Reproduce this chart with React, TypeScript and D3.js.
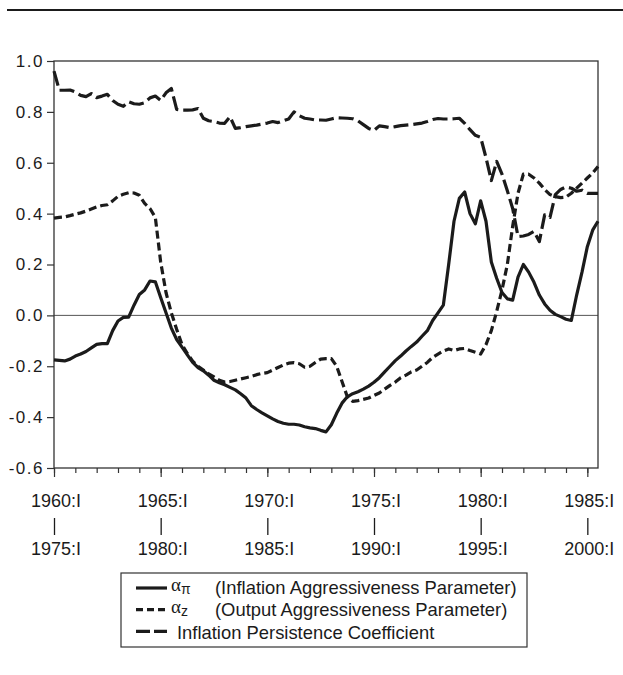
import React, { useEffect, useRef } from 'react'
import * as d3 from 'd3'

// quarterly estimates, 1960:I .. 1985:III
const firstYear = 1960
const lastYear = 1985.5

const alphaPi = [
  -0.175, -0.177, -0.179, -0.172, -0.16, -0.152, -0.142, -0.128, -0.114, -0.111,
  -0.111, -0.06, -0.022, -0.008, -0.007, 0.04, 0.082, 0.1, 0.135, 0.132,
  0.07, 0.01, -0.05, -0.095, -0.125, -0.155, -0.185, -0.205, -0.218, -0.235,
  -0.255, -0.265, -0.273, -0.283, -0.293, -0.308, -0.325, -0.355, -0.37, -0.383,
  -0.395, -0.407, -0.417, -0.424, -0.428, -0.428, -0.431, -0.438, -0.442, -0.445,
  -0.452, -0.458, -0.43, -0.385, -0.345, -0.32, -0.308, -0.3, -0.29, -0.278,
  -0.263, -0.245, -0.222, -0.2, -0.178, -0.16, -0.14, -0.122, -0.105, -0.082,
  -0.06, -0.02, 0.01, 0.04, 0.2, 0.37, 0.46, 0.485, 0.4, 0.36,
  0.45, 0.37, 0.21, 0.146, 0.09, 0.065, 0.06, 0.15, 0.2, 0.17,
  0.13, 0.08, 0.045, 0.02, 0.004, -0.005, -0.015, -0.02, 0.08, 0.17,
  0.27, 0.335, 0.37
]

const alphaZ = [
  0.382, 0.385, 0.387, 0.392, 0.398, 0.403, 0.41, 0.418, 0.426, 0.432,
  0.435, 0.45, 0.468, 0.476, 0.482, 0.481, 0.472, 0.44, 0.42, 0.385,
  0.21, 0.09, 0.01, -0.055, -0.115, -0.15, -0.18, -0.2, -0.215, -0.23,
  -0.242, -0.255, -0.262, -0.26, -0.255, -0.25, -0.245, -0.24, -0.233, -0.228,
  -0.225, -0.215, -0.205, -0.195, -0.188, -0.186, -0.19, -0.204, -0.2, -0.185,
  -0.172, -0.17, -0.17, -0.2, -0.26, -0.32, -0.338, -0.335, -0.33, -0.325,
  -0.315, -0.305, -0.29, -0.275, -0.262, -0.245, -0.235, -0.222, -0.215, -0.2,
  -0.185, -0.165, -0.152, -0.14, -0.132, -0.138, -0.132, -0.13, -0.138, -0.145,
  -0.152, -0.115, -0.06, 0.015, 0.1, 0.2, 0.35, 0.48, 0.555, 0.555,
  0.54, 0.52, 0.495, 0.475, 0.467, 0.463, 0.465, 0.48, 0.5, 0.52,
  0.54, 0.56, 0.585
]

const persistence = [
  0.96, 0.885, 0.885, 0.886, 0.878, 0.865, 0.86, 0.872, 0.856, 0.862,
  0.869, 0.845, 0.83, 0.822, 0.84, 0.832, 0.83, 0.836, 0.855, 0.862,
  0.845, 0.875, 0.892, 0.81, 0.807, 0.807, 0.808, 0.813, 0.775, 0.765,
  0.762, 0.756, 0.755, 0.781, 0.735, 0.738, 0.742, 0.745, 0.748, 0.752,
  0.756, 0.762, 0.758, 0.765, 0.772, 0.8, 0.785, 0.775, 0.772, 0.768,
  0.768, 0.767, 0.772, 0.777, 0.776, 0.775, 0.773, 0.765, 0.75, 0.735,
  0.727, 0.745, 0.742, 0.738, 0.742, 0.746, 0.748, 0.75, 0.753, 0.756,
  0.762, 0.77, 0.774, 0.772, 0.772, 0.773, 0.775, 0.755, 0.73, 0.708,
  0.7, 0.62, 0.53, 0.605, 0.555, 0.49, 0.42, 0.31, 0.312, 0.318,
  0.33, 0.29, 0.395, 0.385, 0.475, 0.495, 0.505, 0.5, 0.488, 0.492,
  0.48, 0.48, 0.48
]

const yTicks = [-0.6, -0.4, -0.2, 0.0, 0.2, 0.4, 0.6, 0.8, 1.0]
const majorYears = [1960, 1965, 1970, 1975, 1980, 1985]
const topLabels = ['1960:I', '1965:I', '1970:I', '1975:I', '1980:I', '1985:I']
const bottomLabels = ['1975:I', '1980:I', '1985:I', '1990:I', '1995:I', '2000:I']

const legendGreek = [['α', 'π'], ['α', 'z'], null]
const legendText = [
  '(Inflation Aggressiveness Parameter)',
  '(Output Aggressiveness Parameter)',
  'Inflation Persistence Coefficient'
]

const font = 'Liberation Sans, Arial, Helvetica, sans-serif'
const ink = '#1b1b1b'

function App () {
  const ref = useRef<SVGSVGElement>(null)

  useEffect(() => {
    const svg = d3.select(ref.current)
    svg.selectAll('*').remove()

    const left = 54
    const right = 598
    const top = 61
    const bottom = 468

    const x = d3.scaleLinear().domain([firstYear, lastYear]).range([left, right])
    const y = d3.scaleLinear().domain([-0.6, 1.0]).range([bottom, top])

    // rule across the top of the page
    svg.append('line')
      .attr('x1', 7).attr('x2', 623).attr('y1', 10).attr('y2', 10)
      .attr('stroke', ink).attr('stroke-width', 1.8)

    // zero line
    svg.append('line')
      .attr('x1', left).attr('x2', right).attr('y1', y(0)).attr('y2', y(0))
      .attr('stroke', '#555').attr('stroke-width', 1)

    // Y axis
    svg.append('g')
      .attr('transform', 'translate(' + left + ',0)')
      .call(d3.axisLeft(y).tickValues(yTicks).tickSize(7).tickPadding(3)
        .tickFormat(d => (+d).toFixed(1)))
      .call(g => g.select('.domain').remove())
      .call(g => g.selectAll('line').attr('stroke', '#333').attr('stroke-width', 1.2))
      .call(g => g.selectAll('text')
        .attr('font-family', font).attr('font-size', 17).attr('fill', ink)
        .attr('letter-spacing', 1.5))

    // X axis: yearly minor ticks, 5-year major ticks
    svg.append('g')
      .attr('transform', 'translate(0,' + bottom + ')')
      .call(d3.axisBottom(x).tickValues(d3.range(1960, 1986)).tickSize(5).tickFormat(() => ''))
      .call(g => g.select('.domain').remove())
      .call(g => g.selectAll('line').attr('stroke', '#333').attr('stroke-width', 1.2))
    svg.append('g')
      .attr('transform', 'translate(0,' + bottom + ')')
      .call(d3.axisBottom(x).tickValues(majorYears).tickSize(9).tickFormat(() => ''))
      .call(g => g.select('.domain').remove())
      .call(g => g.selectAll('line').attr('stroke', '#333').attr('stroke-width', 1.2))

    const labels = svg.append('g')
      .attr('font-family', font).attr('font-size', 18).attr('fill', ink)
      .attr('text-anchor', 'middle')
    majorYears.forEach((yr, i) => {
      const cx = x(yr) + 2
      labels.append('text').attr('x', cx).attr('y', 507).text(topLabels[i])
      labels.append('line')
        .attr('x1', cx - 1.5).attr('x2', cx - 1.5).attr('y1', 518).attr('y2', 535)
        .attr('stroke', ink).attr('stroke-width', 1.3)
      labels.append('text').attr('x', cx).attr('y', 555).text(bottomLabels[i])
    })

    // frame
    svg.append('rect')
      .attr('x', left).attr('y', top)
      .attr('width', right - left).attr('height', bottom - top)
      .attr('fill', 'none').attr('stroke', '#333').attr('stroke-width', 1.3)

    const line = d3.line<number>()
      .x((d, i) => x(firstYear + i / 4))
      .y(d => y(d))

    const series = [
      { values: persistence, dash: '15,5' },
      { values: alphaZ, dash: '8,4' },
      { values: alphaPi, dash: null }
    ]
    series.forEach(s => {
      svg.append('path')
        .attr('d', line(s.values))
        .attr('fill', 'none')
        .attr('stroke', ink)
        .attr('stroke-width', 3.2)
        .attr('stroke-linejoin', 'round')
        .attr('stroke-dasharray', s.dash)
    })

    // legend
    const lg = svg.append('g')
    lg.append('rect')
      .attr('x', 121).attr('y', 573).attr('width', 406).attr('height', 74)
      .attr('fill', 'none').attr('stroke', '#333').attr('stroke-width', 1.2)
    const legendDash = [null, '7,4', '14,4']
    legendText.forEach((t, i) => {
      const ry = 588 + i * 21.7
      lg.append('line')
        .attr('x1', 136).attr('x2', 167).attr('y1', ry).attr('y2', ry)
        .attr('stroke', ink).attr('stroke-width', 3.2)
        .attr('stroke-dasharray', legendDash[i])
      const greek = legendGreek[i]
      if (greek) {
        const gt = lg.append('text')
          .attr('x', 171).attr('y', ry + 3)
          .attr('font-family', 'Liberation Serif, Times New Roman, serif')
          .attr('font-size', 19).attr('fill', ink)
        gt.append('tspan').text(greek[0])
        gt.append('tspan').attr('font-size', 14).attr('dy', 3)
          .attr('font-family', font).text(greek[1])
        lg.append('text')
          .attr('x', 215).attr('y', ry + 6)
          .attr('font-family', font).attr('font-size', 18.4).attr('fill', ink)
          .text(t)
      } else {
        lg.append('text')
          .attr('x', 177).attr('y', ry + 8)
          .attr('font-family', font).attr('font-size', 18.4).attr('fill', ink)
          .text(t)
      }
    })
  }, [])

  return (
    <svg ref={ref} width={623} height={675}
      style={{ position: 'absolute', left: 0, top: 0, background: '#fff' }} />
  )
}

export default App
